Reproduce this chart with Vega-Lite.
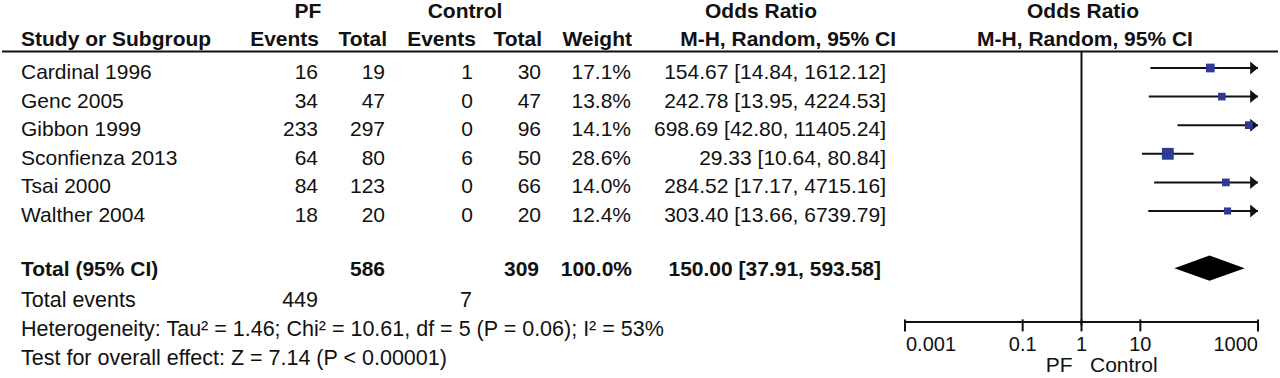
{
  "$schema": "https://vega.github.io/schema/vega-lite/v6.json",
  "width": 1280,
  "height": 378,
  "autosize": {"type": "fit", "contains": "padding"},
  "padding": 0,
  "background": "white",
  "config": {
    "view": {"stroke": null},
    "text": {"font": "Liberation Sans", "fontSize": 21, "color": "#111111", "baseline": "alphabetic"}
  },
  "datasets": {
    "studies": [
      {"row": "Cardinal 1996", "pfE": 16, "pfN": 19, "cE": 1, "cN": 30, "weight": 0.171, "or": 154.67, "lo": 14.84, "hi": 1612.12, "ci": "154.67 [14.84, 1612.12]"},
      {"row": "Genc 2005", "pfE": 34, "pfN": 47, "cE": 0, "cN": 47, "weight": 0.138, "or": 242.78, "lo": 13.95, "hi": 4224.53, "ci": "242.78 [13.95, 4224.53]"},
      {"row": "Gibbon 1999", "pfE": 233, "pfN": 297, "cE": 0, "cN": 96, "weight": 0.141, "or": 698.69, "lo": 42.80, "hi": 11405.24, "ci": "698.69 [42.80, 11405.24]"},
      {"row": "Sconfienza 2013", "pfE": 64, "pfN": 80, "cE": 6, "cN": 50, "weight": 0.286, "or": 29.33, "lo": 10.64, "hi": 80.84, "ci": "29.33 [10.64, 80.84]"},
      {"row": "Tsai 2000", "pfE": 84, "pfN": 123, "cE": 0, "cN": 66, "weight": 0.140, "or": 284.52, "lo": 17.17, "hi": 4715.16, "ci": "284.52 [17.17, 4715.16]"},
      {"row": "Walther 2004", "pfE": 18, "pfN": 20, "cE": 0, "cN": 20, "weight": 0.124, "or": 303.40, "lo": 13.66, "hi": 6739.79, "ci": "303.40 [13.66, 6739.79]"}
    ],
    "total": [
      {"row": "Total (95% CI)", "pfN": 586, "cN": 309, "weight": 1.0, "or": 150.00, "lo": 37.91, "hi": 593.58, "ci": "150.00 [37.91, 593.58]"}
    ],
    "events": [
      {"row": "Total events", "pfE": 449, "cE": 7}
    ],
    "notes": [
      {"row": "het", "label": "Heterogeneity: Tau² = 1.46; Chi² = 10.61, df = 5 (P = 0.06); I² = 53%"},
      {"row": "test", "label": "Test for overall effect: Z = 7.14 (P < 0.00001)"}
    ],
    "ticks": [
      {"row": "het", "v": 0.001, "l": "0.001"},
      {"row": "het", "v": 0.1, "l": "0.1"},
      {"row": "het", "v": 1, "l": "1"},
      {"row": "het", "v": 10, "l": "10"},
      {"row": "het", "v": 1000, "l": "1000"}
    ]
  },
  "encoding": {
    "y": {
      "field": "row",
      "type": "nominal",
      "axis": null,
      "scale": {
        "type": "band",
        "domain": ["hdr", "Cardinal 1996", "Genc 2005", "Gibbon 1999", "Sconfienza 2013", "Tsai 2000", "Walther 2004", "gap", "Total (95% CI)", "Total events", "het", "test"],
        "paddingInner": 0,
        "paddingOuter": 0.6084,
        "align": 0.721
      }
    }
  },
  "resolve": {"scale": {"x": "independent"}},
  "layer": [
    {
      "layer": [
        {"data": {"values": [{"row": "hdr"}]}, "mark": {"type": "rule", "strokeWidth": 2, "color": "#111111"},
         "encoding": {"x": {"datum": 2, "type": "quantitative", "scale": {"domain": [0, 1280]}, "axis": null}, "x2": {"datum": 1278}, "y": {"field": "row", "type": "nominal", "bandPosition": 0.923}}},
        {"data": {"values": [{"row": "hdr", "label": "PF"}]}, "mark": {"type": "text", "align": "center", "fontWeight": "bold", "dy": -21.4},
         "encoding": {"x": {"datum": 308, "type": "quantitative", "scale": {"domain": [0, 1280]}, "axis": null}, "text": {"field": "label"}}},
        {"data": {"values": [{"row": "hdr", "label": "Control"}]}, "mark": {"type": "text", "align": "center", "fontWeight": "bold", "dy": -21.4},
         "encoding": {"x": {"datum": 465, "type": "quantitative", "scale": {"domain": [0, 1280]}, "axis": null}, "text": {"field": "label"}}},
        {"data": {"values": [{"row": "hdr", "label": "Odds Ratio"}]}, "mark": {"type": "text", "align": "center", "fontWeight": "bold", "dy": -21.4},
         "encoding": {"x": {"datum": 761, "type": "quantitative", "scale": {"domain": [0, 1280]}, "axis": null}, "text": {"field": "label"}}},
        {"data": {"values": [{"row": "hdr", "label": "Study or Subgroup"}]}, "mark": {"type": "text", "align": "left", "fontWeight": "bold", "dy": 6.6},
         "encoding": {"x": {"datum": 21, "type": "quantitative", "scale": {"domain": [0, 1280]}, "axis": null}, "text": {"field": "label"}}},
        {"data": {"values": [{"row": "hdr", "label": "Events"}]}, "mark": {"type": "text", "align": "right", "fontWeight": "bold", "dy": 6.6},
         "encoding": {"x": {"datum": 319, "type": "quantitative", "scale": {"domain": [0, 1280]}, "axis": null}, "text": {"field": "label"}}},
        {"data": {"values": [{"row": "hdr", "label": "Total"}]}, "mark": {"type": "text", "align": "right", "fontWeight": "bold", "dy": 6.6},
         "encoding": {"x": {"datum": 387, "type": "quantitative", "scale": {"domain": [0, 1280]}, "axis": null}, "text": {"field": "label"}}},
        {"data": {"values": [{"row": "hdr", "label": "Events"}]}, "mark": {"type": "text", "align": "right", "fontWeight": "bold", "dy": 6.6},
         "encoding": {"x": {"datum": 476, "type": "quantitative", "scale": {"domain": [0, 1280]}, "axis": null}, "text": {"field": "label"}}},
        {"data": {"values": [{"row": "hdr", "label": "Total"}]}, "mark": {"type": "text", "align": "right", "fontWeight": "bold", "dy": 6.6},
         "encoding": {"x": {"datum": 542, "type": "quantitative", "scale": {"domain": [0, 1280]}, "axis": null}, "text": {"field": "label"}}},
        {"data": {"values": [{"row": "hdr", "label": "Weight"}]}, "mark": {"type": "text", "align": "right", "fontWeight": "bold", "dy": 6.6},
         "encoding": {"x": {"datum": 632, "type": "quantitative", "scale": {"domain": [0, 1280]}, "axis": null}, "text": {"field": "label"}}},
        {"data": {"values": [{"row": "hdr", "label": "M-H, Random, 95% CI"}]}, "mark": {"type": "text", "align": "right", "fontWeight": "bold", "dy": 6.6},
         "encoding": {"x": {"datum": 896, "type": "quantitative", "scale": {"domain": [0, 1280]}, "axis": null}, "text": {"field": "label"}}},

        {"data": {"name": "studies"}, "mark": {"type": "text", "align": "left", "dy": 11},
         "encoding": {"x": {"datum": 21, "type": "quantitative", "scale": {"domain": [0, 1280]}, "axis": null}, "text": {"field": "row"}}},
        {"data": {"name": "studies"}, "mark": {"type": "text", "align": "right", "dy": 11},
         "encoding": {"x": {"datum": 318, "type": "quantitative", "scale": {"domain": [0, 1280]}, "axis": null}, "text": {"field": "pfE", "type": "quantitative", "format": "d"}}},
        {"data": {"name": "studies"}, "mark": {"type": "text", "align": "right", "dy": 11},
         "encoding": {"x": {"datum": 385, "type": "quantitative", "scale": {"domain": [0, 1280]}, "axis": null}, "text": {"field": "pfN", "type": "quantitative", "format": "d"}}},
        {"data": {"name": "studies"}, "mark": {"type": "text", "align": "right", "dy": 11},
         "encoding": {"x": {"datum": 473, "type": "quantitative", "scale": {"domain": [0, 1280]}, "axis": null}, "text": {"field": "cE", "type": "quantitative", "format": "d"}}},
        {"data": {"name": "studies"}, "mark": {"type": "text", "align": "right", "dy": 11},
         "encoding": {"x": {"datum": 541, "type": "quantitative", "scale": {"domain": [0, 1280]}, "axis": null}, "text": {"field": "cN", "type": "quantitative", "format": "d"}}},
        {"data": {"name": "studies"}, "mark": {"type": "text", "align": "right", "dy": 11},
         "encoding": {"x": {"datum": 631, "type": "quantitative", "scale": {"domain": [0, 1280]}, "axis": null}, "text": {"field": "weight", "type": "quantitative", "format": ".1%"}}},
        {"data": {"name": "studies"}, "mark": {"type": "text", "align": "right", "dy": 11},
         "encoding": {"x": {"datum": 886, "type": "quantitative", "scale": {"domain": [0, 1280]}, "axis": null}, "text": {"field": "ci"}}},

        {"data": {"name": "total"}, "mark": {"type": "text", "align": "left", "fontWeight": "bold", "dy": 8},
         "encoding": {"x": {"datum": 21, "type": "quantitative", "scale": {"domain": [0, 1280]}, "axis": null}, "text": {"field": "row"}}},
        {"data": {"name": "total"}, "mark": {"type": "text", "align": "right", "fontWeight": "bold", "dy": 8},
         "encoding": {"x": {"datum": 385, "type": "quantitative", "scale": {"domain": [0, 1280]}, "axis": null}, "text": {"field": "pfN", "type": "quantitative", "format": "d"}}},
        {"data": {"name": "total"}, "mark": {"type": "text", "align": "right", "fontWeight": "bold", "dy": 8},
         "encoding": {"x": {"datum": 539, "type": "quantitative", "scale": {"domain": [0, 1280]}, "axis": null}, "text": {"field": "cN", "type": "quantitative", "format": "d"}}},
        {"data": {"name": "total"}, "mark": {"type": "text", "align": "right", "fontWeight": "bold", "dy": 8},
         "encoding": {"x": {"datum": 632, "type": "quantitative", "scale": {"domain": [0, 1280]}, "axis": null}, "text": {"field": "weight", "type": "quantitative", "format": ".1%"}}},
        {"data": {"name": "total"}, "mark": {"type": "text", "align": "right", "fontWeight": "bold", "dy": 8},
         "encoding": {"x": {"datum": 881, "type": "quantitative", "scale": {"domain": [0, 1280]}, "axis": null}, "text": {"field": "ci"}}},

        {"data": {"name": "events"}, "mark": {"type": "text", "align": "left", "dy": 10, "fontSize": 21.5},
         "encoding": {"x": {"datum": 21, "type": "quantitative", "scale": {"domain": [0, 1280]}, "axis": null}, "text": {"field": "row"}}},
        {"data": {"name": "events"}, "mark": {"type": "text", "align": "right", "dy": 10, "fontSize": 21.5},
         "encoding": {"x": {"datum": 318, "type": "quantitative", "scale": {"domain": [0, 1280]}, "axis": null}, "text": {"field": "pfE", "type": "quantitative", "format": "d"}}},
        {"data": {"name": "events"}, "mark": {"type": "text", "align": "right", "dy": 10, "fontSize": 21.5},
         "encoding": {"x": {"datum": 472, "type": "quantitative", "scale": {"domain": [0, 1280]}, "axis": null}, "text": {"field": "cE", "type": "quantitative", "format": "d"}}},

        {"data": {"name": "notes"}, "mark": {"type": "text", "align": "left", "dy": 11, "fontSize": 21.5},
         "encoding": {"x": {"datum": 21, "type": "quantitative", "scale": {"domain": [0, 1280]}, "axis": null}, "text": {"field": "label"}}}
      ]
    },
    {
      "layer": [
        {"data": {"values": [{"row": "hdr", "one": 1, "l": "Odds Ratio"}]}, "mark": {"type": "text", "align": "center", "fontWeight": "bold", "dy": -21.4, "dx": 1.5},
         "encoding": {"x": {"field": "one", "type": "quantitative", "scale": {"type": "log", "domain": [0.001, 1000], "range": [905, 1258], "clamp": true}, "axis": null}, "text": {"field": "l"}}},
        {"data": {"values": [{"row": "hdr", "one": 1, "l": "M-H, Random, 95% CI"}]}, "mark": {"type": "text", "align": "center", "fontWeight": "bold", "dy": 6.6, "dx": 3.5},
         "encoding": {"x": {"field": "one", "type": "quantitative", "scale": {"type": "log", "domain": [0.001, 1000], "range": [905, 1258], "clamp": true}, "axis": null}, "text": {"field": "l"}}},
        {"data": {"values": [{"row": "hdr", "one": 1}]}, "mark": {"type": "rule", "strokeWidth": 2, "color": "#111111"},
         "encoding": {"x": {"field": "one", "type": "quantitative", "scale": {"type": "log", "domain": [0.001, 1000], "range": [905, 1258], "clamp": true}, "axis": null},
                      "y": {"field": "row", "type": "nominal", "bandPosition": 0.923}, "y2": {"datum": "het"}}},
        {"data": {"name": "studies"}, "mark": {"type": "rule", "strokeWidth": 2, "color": "#111111"},
         "encoding": {"x": {"field": "lo", "type": "quantitative", "scale": {"type": "log", "domain": [0.001, 1000], "range": [905, 1258], "clamp": true}, "axis": null}, "x2": {"field": "hi"}}},
        {"data": {"name": "studies"}, "transform": [{"filter": "datum.hi > 1000"}],
         "mark": {"type": "point", "shape": "M-1.2,-1L0,0L-1.2,1Z", "filled": true, "color": "#111111", "opacity": 1, "size": 169},
         "encoding": {"x": {"field": "hi", "type": "quantitative", "scale": {"type": "log", "domain": [0.001, 1000], "range": [905, 1258], "clamp": true}, "axis": null}}},
        {"data": {"name": "studies"}, "mark": {"type": "point", "shape": "square", "filled": true, "color": "#2E3A94", "opacity": 1},
         "encoding": {"x": {"field": "or", "type": "quantitative", "scale": {"type": "log", "domain": [0.001, 1000], "range": [905, 1258], "clamp": true}, "axis": null},
                      "size": {"field": "weight", "type": "quantitative", "scale": {"domain": [0.124, 0.286], "range": [50, 140], "zero": false}, "legend": null}}},
        {"data": {"name": "total"}, "mark": {"type": "point", "shape": "M-1,0L0,-0.36L1,0L0,0.36Z", "filled": true, "color": "#000000", "opacity": 1, "size": 4942},
         "encoding": {"x": {"field": "or", "type": "quantitative", "scale": {"type": "log", "domain": [0.001, 1000], "range": [905, 1258], "clamp": true}, "axis": null}}},
        {"data": {"values": [{"row": "het", "a": 0.001, "b": 1000}]}, "mark": {"type": "rule", "strokeWidth": 2, "color": "#111111"},
         "encoding": {"x": {"field": "a", "type": "quantitative", "scale": {"type": "log", "domain": [0.001, 1000], "range": [905, 1258], "clamp": true}, "axis": null}, "x2": {"field": "b"},
                      "y": {"field": "row", "type": "nominal", "bandPosition": 0.38}}},
        {"data": {"name": "ticks"}, "mark": {"type": "tick", "orient": "vertical", "size": 12, "thickness": 2, "color": "#111111", "opacity": 1},
         "encoding": {"x": {"field": "v", "type": "quantitative", "scale": {"type": "log", "domain": [0.001, 1000], "range": [905, 1258], "clamp": true}, "axis": null},
                      "y": {"field": "row", "type": "nominal", "bandPosition": 0.38}}},
        {"data": {"name": "ticks"}, "transform": [{"filter": "datum.v > 0.001 && datum.v < 1000"}], "mark": {"type": "text", "align": "center", "dy": 29, "fontSize": 20},
         "encoding": {"x": {"field": "v", "type": "quantitative", "scale": {"type": "log", "domain": [0.001, 1000], "range": [905, 1258], "clamp": true}, "axis": null},
                      "y": {"field": "row", "type": "nominal", "bandPosition": 0.38}, "text": {"field": "l"}}},
        {"data": {"name": "ticks"}, "transform": [{"filter": "datum.v == 0.001"}], "mark": {"type": "text", "align": "left", "dy": 29, "dx": 1, "fontSize": 20},
         "encoding": {"x": {"field": "v", "type": "quantitative", "scale": {"type": "log", "domain": [0.001, 1000], "range": [905, 1258], "clamp": true}, "axis": null},
                      "y": {"field": "row", "type": "nominal", "bandPosition": 0.38}, "text": {"field": "l"}}},
        {"data": {"name": "ticks"}, "transform": [{"filter": "datum.v == 1000"}], "mark": {"type": "text", "align": "right", "dy": 29, "dx": 0, "fontSize": 20},
         "encoding": {"x": {"field": "v", "type": "quantitative", "scale": {"type": "log", "domain": [0.001, 1000], "range": [905, 1258], "clamp": true}, "axis": null},
                      "y": {"field": "row", "type": "nominal", "bandPosition": 0.38}, "text": {"field": "l"}}},
        {"data": {"values": [{"row": "het", "one": 1, "l": "PF"}]}, "mark": {"type": "text", "align": "right", "dx": -9, "dy": 50},
         "encoding": {"x": {"field": "one", "type": "quantitative", "scale": {"type": "log", "domain": [0.001, 1000], "range": [905, 1258], "clamp": true}, "axis": null},
                      "y": {"field": "row", "type": "nominal", "bandPosition": 0.38}, "text": {"field": "l"}}},
        {"data": {"values": [{"row": "het", "one": 1, "l": "Control"}]}, "mark": {"type": "text", "align": "left", "dx": 8.5, "dy": 50},
         "encoding": {"x": {"field": "one", "type": "quantitative", "scale": {"type": "log", "domain": [0.001, 1000], "range": [905, 1258], "clamp": true}, "axis": null},
                      "y": {"field": "row", "type": "nominal", "bandPosition": 0.38}, "text": {"field": "l"}}}
      ]
    }
  ]
}
